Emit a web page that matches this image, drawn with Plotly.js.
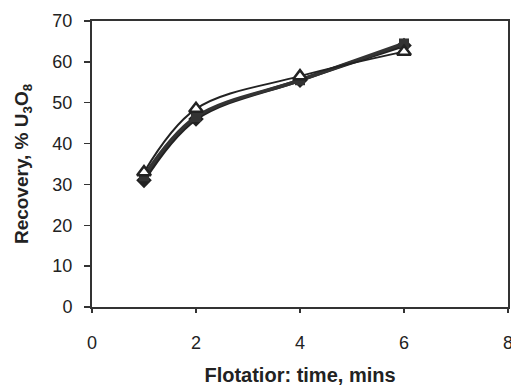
<!DOCTYPE html>
<html><head><meta charset="utf-8">
<script src="https://cdn.plot.ly/plotly-3.0.1.min.js"></script>
<style>html,body{margin:0;padding:0;background:#fff;}#c{width:511px;height:391px;}</style>
</head><body><div id="c"></div>
<script>
const times = [1, 2, 4, 6];
const seriesDiamond = [31, 46, 55.5, 64];
const seriesSquare = [32, 46.5, 55.5, 64.5];
const seriesTriangle = [33, 48.5, 56.5, 62.5];
const xTicks = [0, 2, 4, 6, 8];
const yTicks = [0, 10, 20, 30, 40, 50, 60, 70];

const traces = [
  {x: times, y: seriesDiamond, mode: 'lines+markers', line: {shape: 'spline', color: '#222', width: 3.5},
   marker: {symbol: 'diamond', size: 12, color: '#222'}},
  {x: times, y: seriesSquare, mode: 'lines+markers', line: {shape: 'spline', color: '#333', width: 3.5},
   marker: {symbol: 'square', size: 10, color: '#333'}},
  {x: times, y: seriesTriangle, mode: 'lines+markers', line: {shape: 'spline', color: '#222', width: 2},
   marker: {symbol: 'triangle-up', size: 12, color: '#fff', line: {width: 2.5, color: '#222'}}}
];
const layout = {
  width: 511, height: 391, showlegend: false,
  paper_bgcolor: '#fff', plot_bgcolor: '#fff',
  margin: {l: 92, r: 3, t: 21, b: 84},
  font: {family: 'Liberation Sans, Arial, sans-serif', color: '#222'},
  xaxis: {range: [0, 8], tickvals: xTicks, ticks: 'outside', ticklen: 4, tickwidth: 1.5, tickcolor: '#333',
    showline: true, mirror: true, linecolor: '#333', linewidth: 2, showgrid: false, zeroline: false,
    ticklabeloverflow: 'allow', ticklabelstandoff: 14,
    tickfont: {size: 18, color: '#222'},
    title: {text: '<b>Flotatior: time, mins</b>', font: {size: 20, color: '#222'}, standoff: 16}},
  yaxis: {range: [0, 70], tickvals: yTicks, ticks: 'outside', ticklen: 6, tickwidth: 1.5, tickcolor: '#333',
    showline: true, mirror: true, linecolor: '#333', linewidth: 2, showgrid: false, zeroline: false,
    ticklabelstandoff: 8,
    tickfont: {size: 18, color: '#222'},
    title: {text: '<b>Recovery, % U<sub>3</sub>O<sub>8</sub></b>', font: {size: 19, color: '#222'}, standoff: 19}}
};
Plotly.newPlot('c', traces, layout, {staticPlot: true});
</script></body></html>
